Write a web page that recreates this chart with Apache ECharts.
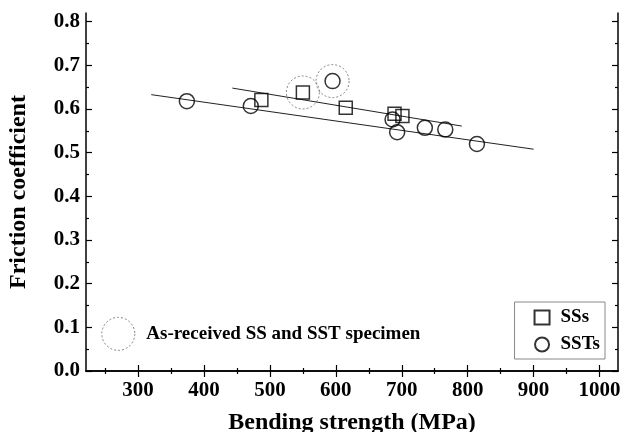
<!DOCTYPE html>
<html>
<head>
<meta charset="utf-8">
<script src="https://cdn.jsdelivr.net/npm/echarts@6/dist/echarts.min.js"></script>
<style>
  html, body { margin: 0; padding: 0; background: #fff; }
  #chart { width: 620px; height: 432px; }
</style>
</head>
<body>
<div id="chart"></div>
<script>
// values
const ssPoints = [[487, 0.621], [550, 0.638], [615, 0.603], [689, 0.589], [701, 0.584]];
const sstPoints = [[374, 0.618], [471, 0.607], [595, 0.664], [686, 0.576], [693, 0.547], [735, 0.557], [766, 0.553], [814, 0.520]];
const ssFit = [[443, 0.648], [791, 0.561]];
const sstFit = [[320, 0.633], [900, 0.508]];
const asReceived = [[550, 0.638], [595, 0.664]];
const notePoint = [[270, 0.085]];
const noteText = 'As-received SS and SST specimen';

const xMajorTicks = [300, 400, 500, 600, 700, 800, 900, 1000];
const xMinorTicks = [250, 350, 450, 550, 650, 750, 850, 950];
const yMajorTicks = [0, 0.1, 0.2, 0.3, 0.4, 0.5, 0.6, 0.7, 0.8];
const yMinorTicks = [0.05, 0.15, 0.25, 0.35, 0.45, 0.55, 0.65, 0.75];

const font = "'Liberation Serif', 'Times New Roman', serif";
const xMin = 221, xMax = 1028;
const yMin = 0, yMax = 0.82;

const lineStyle = { color: '#000', width: 1.5 };

function xAxisOf(position, ticks, len, main) {
  return {
    type: 'value', position: position, min: xMin, max: xMax,
    axisLine: { show: main, lineStyle: lineStyle },
    axisTick: { show: true, inside: true, length: len, customValues: ticks, lineStyle: { color: '#000', width: 1.2 } },
    axisLabel: { show: false },
    splitLine: { show: false }
  };
}
function yAxisOf(position, ticks, len, main) {
  return {
    type: 'value', position: position, min: yMin, max: yMax,
    axisLine: { show: main, lineStyle: lineStyle },
    axisTick: { show: true, inside: true, length: len, customValues: ticks, lineStyle: { color: '#000', width: 1.2 } },
    axisLabel: { show: false },
    splitLine: { show: false }
  };
}

const xBottom = xAxisOf('bottom', xMajorTicks, 6, true);
xBottom.axisLabel = {
  show: true, customValues: xMajorTicks, margin: 9,
  fontFamily: font, fontWeight: 'bold', fontSize: 21, color: '#000',
  formatter: v => String(v)
};
xBottom.name = 'Bending strength (MPa)';
xBottom.nameLocation = 'middle';
xBottom.nameGap = 40;
xBottom.nameTextStyle = { fontFamily: font, fontWeight: 'bold', fontSize: 24, color: '#000' };

const yLeft = yAxisOf('left', yMajorTicks, 6, true);
yLeft.axisLabel = {
  show: true, customValues: yMajorTicks, margin: 6,
  fontFamily: font, fontWeight: 'bold', fontSize: 21, color: '#000',
  formatter: v => v.toFixed(1)
};
yLeft.name = 'Friction coefficient';
yLeft.nameLocation = 'middle';
yLeft.nameGap = 55;
yLeft.nameTextStyle = { fontFamily: font, fontWeight: 'bold', fontSize: 24, color: '#000' };

const hollow = { color: 'rgba(0,0,0,0)', borderColor: '#000', borderWidth: 1.5 };
const dashed = { color: 'rgba(0,0,0,0)', borderColor: '#666', borderWidth: 1, borderType: [2, 2] };

const chart = echarts.init(document.getElementById('chart'));
chart.setOption({
  animation: false,
  backgroundColor: '#fff',
  grid: { left: 86, right: 2, top: 13, bottom: 61, outerBoundsMode: 'none' },
  xAxis: [
    xBottom,
    xAxisOf('bottom', xMinorTicks, 3, false),
    xAxisOf('top', xMajorTicks, 6, true),
    xAxisOf('top', xMinorTicks, 3, false)
  ],
  yAxis: [
    yLeft,
    yAxisOf('left', yMinorTicks, 3, false),
    yAxisOf('right', yMajorTicks, 6, true),
    yAxisOf('right', yMinorTicks, 3, false)
  ],
  legend: {
    data: ['SSs', 'SSTs'],
    orient: 'vertical', right: 15, top: 302,
    borderColor: '#888', borderWidth: 1,
    padding: [6, 5, 5, 19], itemGap: 8,
    itemWidth: 15, itemHeight: 14,
    textStyle: { fontFamily: font, fontWeight: 'bold', fontSize: 19, color: '#000', padding: [0, 0, 0, 6] }
  },
  series: [
    { name: 'SS fit', type: 'line', data: ssFit, symbol: 'none', lineStyle: { color: '#222', width: 1 }, z: 1 },
    { name: 'SST fit', type: 'line', data: sstFit, symbol: 'none', lineStyle: { color: '#222', width: 1 }, z: 1 },
    { name: 'SSs', type: 'scatter', data: ssPoints, symbol: 'rect', symbolSize: 13, itemStyle: hollow, z: 3 },
    { name: 'SSTs', type: 'scatter', data: sstPoints, symbol: 'circle', symbolSize: 15, itemStyle: hollow, z: 3 },
    { name: 'As-received', type: 'scatter', data: asReceived, symbol: 'circle', symbolSize: 33, itemStyle: dashed, z: 2 },
    {
      name: 'note', type: 'scatter', data: notePoint, symbol: 'circle', symbolSize: 33, itemStyle: dashed, z: 2,
      label: {
        show: true, position: 'right', distance: 11, formatter: noteText, opacity: 1,
        fontFamily: font, fontWeight: 'bold', fontSize: 19, color: '#000'
      }
    }
  ]
});
</script>
</body>
</html>
